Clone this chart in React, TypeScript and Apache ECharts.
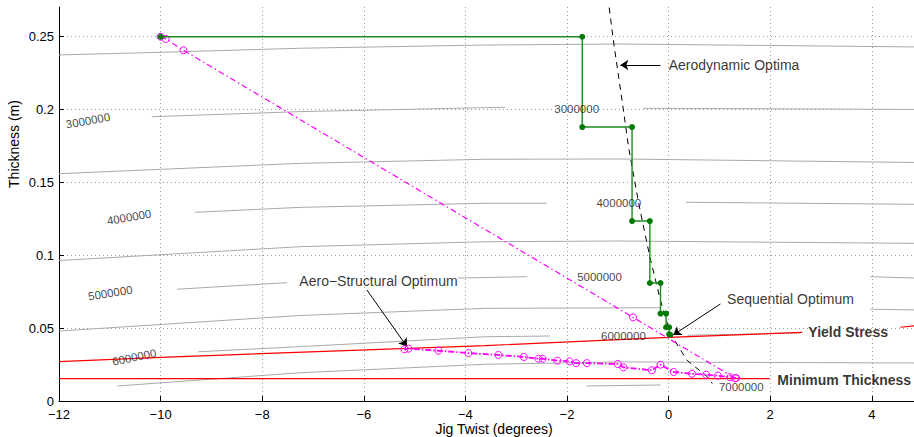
import React, { useEffect, useRef } from "react";
import * as echarts from "echarts";

// ---------- axis settings ----------
const X_MIN = -12;
const X_MAX = 4.83;
const X_STEP = 2;
const Y_MIN = 0;
const Y_MAX = 0.2704;
const Y_STEP = 0.05;

// ---------- contour lines (gray), split where labels / text interrupt ----------
const contourA = [[-12, 0.2375], [-10, 0.2393], [-7.25, 0.2421], [-3.61, 0.2443], [-0.95, 0.245], [4.83, 0.243]];
const contourB1 = [[-10.17, 0.1951], [-7.25, 0.1986], [-3.22, 0.2016]];
const contourB2 = [[-0.5, 0.2009], [4.83, 0.2001]];
const contourC = [[-12, 0.156], [-7.25, 0.1631], [-3.61, 0.1659], [-0.95, 0.1661], [4.83, 0.1637]];
const contourD1 = [[-9.32, 0.1295], [-7.25, 0.1329], [-3.61, 0.1357], [-2.41, 0.1357]];
const contourD2 = [[0.34, 0.1364], [4.83, 0.135]];
const contourE = [[-12, 0.0964], [-7.25, 0.1059], [-3.61, 0.1093], [-0.95, 0.1098], [4.83, 0.1082]];
const contourF1 = [[-9.68, 0.0767], [-7.51, 0.0812]];
const contourF2 = [[-4.14, 0.0844], [-2.78, 0.0853]];
const contourF3 = [[3.97, 0.0853], [4.83, 0.0844]];
const contourG1 = [[-12, 0.048], [-7.25, 0.0587], [-3.61, 0.0636], [-0.15, 0.064]];
const contourG2 = [[3.97, 0.063], [4.83, 0.0625]];
const contourH1 = [[-9.26, 0.0338], [-7.25, 0.0373], [-3.61, 0.0441], [-2.33, 0.0446]];
const contourH2 = [[0.37, 0.0451], [2.59, 0.0467]];
const contourI = [[-10.85, 0.0103], [-7.25, 0.0194], [-3.61, 0.0252], [-0.95, 0.0268], [4.83, 0.0261]];
const contourJ = [[-1.62, 0.0103], [-0.16, 0.011]];
const contourSegments = [
  contourA, contourB1, contourB2, contourC, contourD1, contourD2, contourE,
  contourF1, contourF2, contourF3, contourG1, contourG2, contourH1, contourH2,
  contourI, contourJ,
];

// contour labels
const contourLabelText = ["3000000", "4000000", "5000000", "6000000", "3000000", "4000000", "5000000", "6000000", "7000000"];
const contourLabelPos = [
  [-11.43, 0.1924], [-10.62, 0.1261], [-10.99, 0.0741], [-10.52, 0.03],
  [-1.81, 0.2002], [-0.98, 0.1357], [-1.36, 0.0849], [-0.89, 0.0446], [1.43, 0.0096],
];
const contourLabelRot = [10, 10, 9, 12, 0, 0, 0, 0, 0];

// ---------- constraints (red) ----------
const yieldStress1 = [[-12, 0.027], [-10, 0.03], [-3.61, 0.038], [0, 0.0437], [2.63, 0.0471]];
const yieldStress2 = [[4.56, 0.0506], [4.83, 0.0515]];
const minThickness = [[-12, 0.0153], [1.99, 0.0153]];

// ---------- aerodynamic optima (black dashed) ----------
const aeroOptima = [
  [-1.17, 0.27], [-1.08, 0.2455], [-0.89, 0.1997], [-0.79, 0.1745], [-0.59, 0.1357],
  [-0.37, 0.099], [-0.16, 0.069], [0.03, 0.0465], [0.36, 0.028], [0.76, 0.0167], [0.86, 0.012],
];

// ---------- aero-structural optimisation path (magenta) ----------
const mdoPathDiag = [[-10, 0.25], [-9.9, 0.2485], [-9.55, 0.2407], [-0.7, 0.0574], [1.31, 0.0156]];
const mdoPathLower = [
  [1.33, 0.0158], [1.21, 0.0163], [0.97, 0.0174], [0.74, 0.018], [0.46, 0.0187], [0.1, 0.0199],
  [-0.16, 0.0249], [-0.33, 0.0211], [-0.89, 0.0231], [-1.0, 0.0254], [-1.61, 0.026], [-1.82, 0.026],
  [-1.95, 0.0272], [-2.19, 0.0277], [-2.48, 0.029], [-2.56, 0.029], [-2.85, 0.0302], [-3.35, 0.0316],
  [-3.94, 0.0329], [-4.53, 0.0345], [-5.12, 0.0359], [-5.2, 0.0355],
];

// ---------- sequential optimisation path (green) ----------
const sequentialPath = [
  [-10, 0.25], [-1.7, 0.25], [-1.7, 0.188], [-0.72, 0.188], [-0.72, 0.1235], [-0.37, 0.1235],
  [-0.37, 0.081], [-0.16, 0.081], [-0.16, 0.06], [-0.05, 0.06], [-0.05, 0.0506], [0.01, 0.0506],
  [0.01, 0.0458], [0.03, 0.0455],
];

// ---------- annotations ----------
const annotationText = ["Aerodynamic Optima", "Aero\u2212Structural Optimum", "Sequential Optimum", "Yield Stress", "Minimum Thickness"];
const annotationPos = [[0.0, 0.2306], [-5.71, 0.0826], [1.15, 0.0698], [2.75, 0.0474], [2.14, 0.0144]];
const annotationAlign = ["left", "center", "left", "left", "left"];
const annotationBold = [false, false, false, true, true];
const arrowFrom = [[-0.16, 0.2306], [-5.94, 0.0762], [1.02, 0.0666]];
const arrowTo = [[-0.95, 0.2306], [-5.15, 0.0373], [0.09, 0.0453]];

const FONT = "'Liberation Sans', Arial, Helvetica, sans-serif";

export default function App() {
  const ref = useRef<HTMLDivElement>(null);

  useEffect(() => {
    if (!ref.current) return;
    const chart = echarts.init(ref.current, undefined, { renderer: "svg" });

    const contourSeries = contourSegments.map((seg) => ({
      type: "line",
      data: seg,
      showSymbol: false,
      silent: true,
      z: 1,
      lineStyle: { color: "#a9a9a9", width: 1 },
    }));

    const option: any = {
      animation: false,
      backgroundColor: "#ffffff",
      textStyle: { fontFamily: FONT },
      grid: { left: 59, right: 0, top: 7, bottom: 36, containLabel: false, outerBoundsMode: "none" },
      xAxis: {
        type: "value",
        min: X_MIN,
        max: X_MAX,
        interval: X_STEP,
        axisLine: { show: true, onZero: false, lineStyle: { color: "#000", width: 1 } },
        axisTick: { show: true, inside: true, length: 5, lineStyle: { color: "#000" } },
        axisLabel: {
          showMaxLabel: false,
          color: "#000",
          fontSize: 13,
          lineHeight: 13,
          fontFamily: FONT,
          margin: 7,
          formatter: (v: number) => (Math.abs(v - Math.round(v)) > 1e-6 ? "" : String(v).replace("-", "\u2212")),
        },
        splitLine: { show: true, showMaxLine: false, lineStyle: { color: "#9a9a9a", type: [1, 3], width: 1 } },
      },
      yAxis: {
        type: "value",
        min: Y_MIN,
        max: Y_MAX,
        interval: Y_STEP,
        axisLine: { show: true, onZero: false, lineStyle: { color: "#000", width: 1 } },
        axisTick: { show: true, inside: true, length: 5, lineStyle: { color: "#000" } },
        axisLabel: {
          showMaxLabel: false,
          color: "#000",
          fontSize: 13,
          lineHeight: 13,
          fontFamily: FONT,
          margin: 5,
        },
        splitLine: { show: true, showMaxLine: false, lineStyle: { color: "#9a9a9a", type: [1, 3], width: 1 } },
      },
      graphic: [
        {
          type: "text",
          x: 494,
          y: 429,
          style: { text: "Jig Twist (degrees)", font: `14px ${FONT}`, fill: "#000", textAlign: "center", textVerticalAlign: "middle" },
        },
        {
          type: "text",
          x: 14,
          y: 144,
          rotation: Math.PI / 2,
          style: { text: "Thickness (m)", font: `14px ${FONT}`, fill: "#000", textAlign: "center", textVerticalAlign: "middle" },
        },
      ],
      series: [
        ...contourSeries,
        { type: "line", data: yieldStress1, showSymbol: false, silent: true, z: 3, lineStyle: { color: "#ff0000", width: 1.2 } },
        { type: "line", data: yieldStress2, showSymbol: false, silent: true, z: 3, lineStyle: { color: "#ff0000", width: 1.2 } },
        { type: "line", data: minThickness, showSymbol: false, silent: true, z: 3, lineStyle: { color: "#ff0000", width: 1.2 } },
        {
          type: "line",
          data: aeroOptima,
          showSymbol: false,
          silent: true,
          z: 4,
          lineStyle: { color: "#000", width: 1, type: [6, 5] },
          markLine: {
            silent: true,
            symbol: ["none", "arrow"],
            symbolSize: 8,
            label: { show: false },
            lineStyle: { color: "#000", width: 1, type: "solid" },
            data: arrowFrom.map((f, i) => [{ coord: f }, { coord: arrowTo[i] }]),
          },
        },
        {
          type: "line",
          data: mdoPathDiag,
          symbol: "circle",
          symbolSize: 7,
          showSymbol: true,
          silent: true,
          z: 5,
          lineStyle: { color: "#ff00ff", width: 1.2, type: [6, 3, 1.5, 3] },
          itemStyle: { color: "rgba(0,0,0,0)", borderColor: "#ff00ff", borderWidth: 1 },
        },
        {
          type: "line",
          data: mdoPathLower,
          symbol: "circle",
          symbolSize: 7,
          showSymbol: true,
          silent: true,
          z: 5,
          lineStyle: { color: "#ff00ff", width: 1.8, type: [6, 2, 1.5, 2] },
          itemStyle: { color: "rgba(0,0,0,0)", borderColor: "#ff00ff", borderWidth: 1 },
        },
        {
          type: "line",
          data: sequentialPath,
          symbol: "circle",
          symbolSize: 6,
          showSymbol: true,
          silent: true,
          z: 6,
          lineStyle: { color: "#1f8a1f", width: 1.4 },
          itemStyle: { color: "#007a00", borderWidth: 0 },
        },
        {
          type: "scatter",
          symbolSize: 0,
          silent: true,
          z: 10,
          data: contourLabelText.map((t, i) => ({
            value: contourLabelPos[i],
            label: {
              show: true,
              formatter: t,
              position: "inside",
              rotate: contourLabelRot[i],
              color: "#111",
              fontSize: 11.5,
              fontFamily: FONT,
            },
          })),
        },
        {
          type: "scatter",
          symbolSize: 0,
          silent: true,
          z: 10,
          data: annotationText.map((t, i) => ({
            value: annotationPos[i],
            label: {
              show: true,
              formatter: t,
              position: "inside",
              align: annotationAlign[i],
              verticalAlign: "middle",
              color: "#000",
              fontSize: 14,
              fontWeight: annotationBold[i] ? "bold" : "normal",
              fontFamily: FONT,
            },
          })),
        },
      ],
    };

    chart.setOption(option);
    return () => chart.dispose();
  }, []);

  return (
    <div
      ref={ref}
      style={{ position: "fixed", left: 0, top: 0, width: 914, height: 437, background: "#fff" }}
    />
  );
}
